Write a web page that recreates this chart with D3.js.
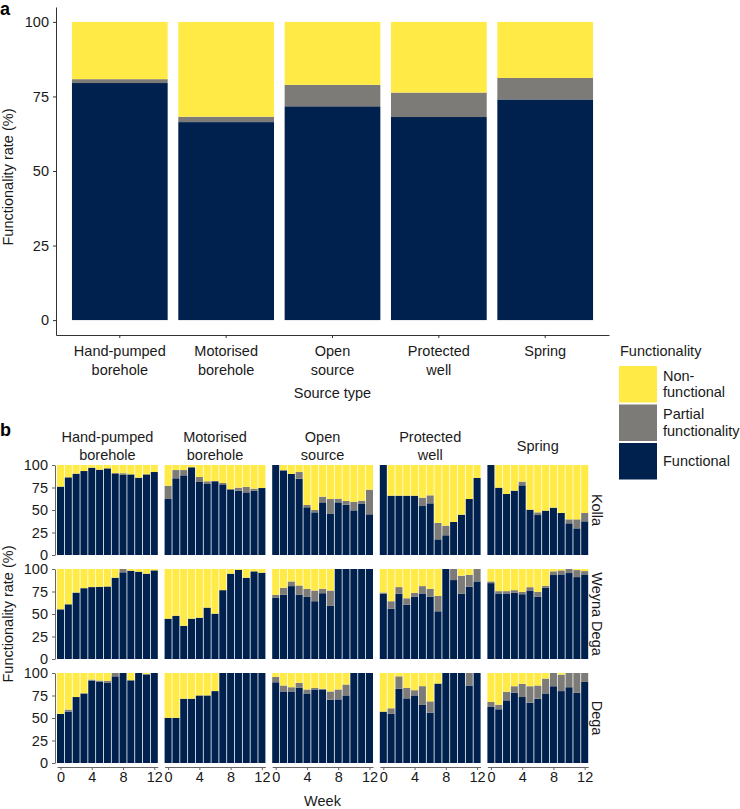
<!DOCTYPE html>
<html><head><meta charset="utf-8">
<script src="https://cdn.jsdelivr.net/npm/d3@7"></script>
<style>body{margin:0;background:#fff}svg{display:block;font-family:"Liberation Sans",Arial,Helvetica,sans-serif}</style>
</head><body><svg id="c" width="740" height="809"></svg>
<script>
// ---------- data ----------
const sourceTypes = ["Hand-pumped borehole","Motorised borehole","Open source","Protected well","Spring"];
const sourceLabels = [["Hand-pumped","borehole"],["Motorised","borehole"],["Open","source"],["Protected","well"],["Spring"]];
const overallFunctional = [79.5, 66.4, 71.7, 68.1, 74.0];
const overallPartial    = [1.3, 1.8, 7.2, 8.2, 7.2];
const zones = ["Kolla","Weyna Dega","Dega"];
const weeks = [0,1,2,3,4,5,6,7,8,9,10,11,12];
const weekTicks = [0,4,8,12];
const pctTicks = [0,25,50,75,100];
const legendLabels = [["Non-","functional"],["Partial","functionality"],["Functional"]];

// Kolla: functional / partial per source type (weeks 0-12)
const kollaFunctional = [
  [76, 86.3, 90.4, 93.3, 97, 94.8, 96.3, 90, 89, 89.6, 85.9, 89.6, 92.2],
  [62.2, 85.2, 88.5, 96.7, 81.1, 78.9, 81.9, 78.5, 73, 71.5, 69.6, 71.5, 74.4],
  [100, 94.1, 90, 84.8, 53, 47.4, 58.5, 45.6, 58.5, 55.9, 49.6, 56.7, 45.2],
  [100, 65.9, 65.9, 65.9, 65.9, 54.4, 57.4, 17.4, 21.9, 36.7, 44.8, 62.2, 85.6],
  [100, 74.8, 67.8, 71.5, 77.4, 50.4, 44.4, 49.3, 52.6, 46.7, 35.2, 29.6, 37.4]
];
const kollaPartial = [
  [0, 0, 0, 0, 0, 0, 0, 1.1, 1.9, 0, 0, 0, 0],
  [14.8, 9.2, 5.9, 1.1, 5.6, 3, 0.4, 1.5, 0, 3.3, 6, 2.2, 0],
  [0, 0, 0, 7.4, 2.6, 2.6, 6.3, 16.6, 4.1, 4.1, 9.3, 3.7, 27.4],
  [0, 0, 0, 0, 0, 9.3, 8.9, 18.2, 10.7, 0, 0, 0, 0],
  [0, 0, 0, 0, 4.1, 0, 3, 0, 0, 0, 4.4, 10, 9.3]
];
// Weyna Dega
const weynaFunctional = [
  [55.2, 60.8, 73.5, 78.7, 79.9, 80.2, 80.6, 90.3, 96.3, 98.1, 97, 94.8, 98.5],
  [44.8, 48.1, 36.9, 44.8, 45.9, 57.1, 50.4, 76.5, 94.8, 98.9, 90.3, 97.4, 95.9],
  [67.9, 71.3, 81, 71.6, 69, 64.2, 73.1, 59, 100, 100, 100, 100, 100],
  [72.4, 56, 72.4, 60.4, 69.4, 72.8, 69, 53, 100, 87.7, 72.4, 80.2, 86.2],
  [84.3, 72.8, 72.8, 73.5, 72, 76.1, 69.4, 79.1, 93.3, 94, 95.5, 91, 94]
];
const weynaPartial = [
  [0, 0, 0.5, 0, 0, 0, 0, 0, 3.7, 0, 0, 0, 0],
  [0, 0, 0, 0, 0, 0, 0, 0, 0, 0, 0, 0, 0],
  [3.4, 7.8, 5.2, 10.1, 9, 11.9, 4.9, 17.1, 0, 0, 0, 0, 0],
  [1.5, 8.2, 7.5, 7.1, 4.1, 8.2, 9, 17.1, 0, 12.3, 20.1, 13.4, 13.8],
  [1.9, 2.6, 2.6, 3, 2.6, 3.7, 5.2, 2.2, 4.1, 4.5, 4.5, 7.8, 3.7]
];
// Dega
const degaFunctional = [
  [54.6, 57.1, 73.3, 76.9, 91.6, 90.1, 89, 96.3, 100, 91.9, 100, 98.2, 100],
  [50.2, 50.2, 71.4, 71.4, 75.1, 75.1, 79.9, 100, 100, 100, 100, 100, 100],
  [89.7, 79.5, 79.5, 83.5, 77.3, 81.7, 81.7, 70.3, 70.7, 75.1, 100, 100, 100],
  [57.1, 54.6, 82.4, 71.8, 75.1, 64.5, 56, 88.3, 100, 100, 100, 86.1, 100],
  [62.3, 59.7, 69.6, 78, 73.3, 67, 71.4, 77.3, 85.3, 79.9, 84.2, 78, 90.1]
];
const degaPartial = [
  [0, 2.2, 0, 0.8, 1.1, 1.5, 2.2, 3.7, 0, 0, 0, 0.7, 0],
  [0, 0, 0, 0, 0, 0, 0, 0, 0, 0, 0, 0, 0],
  [5.9, 6.6, 4.7, 5.5, 4.4, 1.8, 0.7, 9.2, 11, 12.1, 0, 0, 0],
  [0, 6.2, 13.9, 11.7, 5.8, 20.9, 12.5, 0, 0, 0, 0, 13.9, 0],
  [5.5, 5.1, 9.5, 7.3, 14.6, 18.3, 14.7, 16.5, 14.7, 18.3, 15.8, 22, 9.9]
];
const zoneFunctional = [kollaFunctional, weynaFunctional, degaFunctional];
const zonePartial = [kollaPartial, weynaPartial, degaPartial];

const stackKeys = ["f","p","n"];
const colors = {f:"#00204D", p:"#7C7B78", n:"#FFEA46"};
const legendColors = ["#FFEA46","#7C7B78","#00204D"];

// ---------- drawing ----------
const svg = d3.select("#c");
const TXT = "#1a1a1a", FS = 14.5;
const stack = d3.stack().keys(stackKeys);

function styleAxis(g, lineColor){
  g.selectAll("path.domain").attr("stroke", lineColor).attr("stroke-width",1);
  g.selectAll(".tick line").attr("stroke", lineColor);
  g.selectAll(".tick text").attr("fill", TXT).style("font-size", FS+"px").attr("font-family", null);
  g.attr("font-family", null).attr("font-size", null);
}

// ===== Panel a =====
const rowsA = sourceTypes.map((s,i)=>({key:s, f:overallFunctional[i], p:overallPartial[i], n:100-overallFunctional[i]-overallPartial[i]}));
const xA = d3.scaleBand().domain(sourceTypes).range([56,609]).paddingInner(0.1).paddingOuter(0.15);
const yA = d3.scaleLinear().domain([-5,105]).range([335,7]);
const gA = svg.append("g");
gA.selectAll("g.layer").data(stack(rowsA)).join("g").attr("fill", d=>colors[d.key])
  .selectAll("rect").data(d=>d).join("rect")
  .attr("x", d=>xA(d.data.key)).attr("width", xA.bandwidth())
  .attr("y", d=>yA(d[1])).attr("height", d=>yA(d[0])-yA(d[1]));
const ayA = gA.append("g").attr("transform","translate(56,0)")
  .call(d3.axisLeft(yA).tickValues(pctTicks).tickSize(3).tickSizeOuter(0).tickPadding(4));
styleAxis(ayA, "#333");
const axA = gA.append("g").attr("transform","translate(0,335)")
  .call(d3.axisBottom(xA).tickSize(3).tickSizeOuter(0).tickPadding(4).tickFormat(""));
styleAxis(axA, "#333");
axA.selectAll(".tick").each(function(d,i){
  const t = d3.select(this).append("text").attr("fill",TXT).style("font-size",FS+"px").attr("text-anchor","middle");
  sourceLabels[i].forEach((l,k)=>t.append("tspan").attr("x",0).attr("y",21+k*19).text(l));
});
svg.append("text").attr("x",332.5).attr("y",398).attr("text-anchor","middle").attr("fill",TXT).style("font-size",FS+"px").text("Source type");
svg.append("text").attr("transform","translate(13,177) rotate(-90)").attr("text-anchor","middle").attr("fill",TXT).style("font-size",FS+"px").text("Functionality rate (%)");
svg.append("text").attr("x",0).attr("y",15).attr("font-weight","bold").style("font-size","18px").attr("fill","#000").text("a");

// ===== Legend =====
const lg = svg.append("g");
lg.append("text").attr("x",620).attr("y",356).attr("fill",TXT).style("font-size",FS+"px").text("Functionality");
legendLabels.forEach((lab,i)=>{
  const y0 = 366 + i*38.5;
  lg.append("rect").attr("x",619).attr("y",y0).attr("width",38).attr("height",36.5).attr("fill",legendColors[i]);
  const t = lg.append("text").attr("fill",TXT).style("font-size",FS+"px");
  const n = lab.length;
  lab.forEach((l,k)=>t.append("tspan").attr("x",663).attr("y", y0+18+5 + (k-(n-1)/2)*16.5).text(l));
});

// ===== Panel b =====
svg.append("text").attr("x",0).attr("y",436).attr("font-weight","bold").style("font-size","18px").attr("fill","#000").text("b");
const colLeft = i => 57 + i*107.6, colW = 100.8;
const rowTop = j => 465 + j*104, rowH = 90;

zones.forEach((z,j)=>{
  sourceTypes.forEach((s,i)=>{
    const x = d3.scaleLinear().domain([-0.45,12.45]).range([colLeft(i), colLeft(i)+colW]);
    const y = d3.scaleLinear().domain([0,100]).range([rowTop(j)+rowH, rowTop(j)]);
    const rows = weeks.map((w,k)=>({key:w, f:zoneFunctional[j][i][k], p:zonePartial[j][i][k],
      n:Math.max(0,100-zoneFunctional[j][i][k]-zonePartial[j][i][k])}));
    const g = svg.append("g");
    g.selectAll("g.layer").data(stack(rows)).join("g").attr("fill", d=>colors[d.key])
      .selectAll("rect").data(d=>d).join("rect")
      .attr("x", d=>x(d.data.key-0.45)).attr("width", d=>x(d.data.key+0.45)-x(d.data.key-0.45))
      .attr("y", d=>y(d[1])).attr("height", d=>y(d[0])-y(d[1]));
    if(i===0){
      const ay = svg.append("g").attr("transform","translate(55,0)")
        .call(d3.axisLeft(y).tickValues(pctTicks).tickSize(3).tickSizeOuter(0).tickPadding(4));
      styleAxis(ay, "#666");
    }
    if(j===zones.length-1){
      const ax = svg.append("g").attr("transform","translate(0,767)")
        .call(d3.axisBottom(x).tickValues(weekTicks).tickSize(3).tickSizeOuter(0).tickPadding(2));
      styleAxis(ax, "#666");
    }
    if(j===0){
      const cx = colLeft(i)+colW/2;
      const t = svg.append("text").attr("fill",TXT).style("font-size",FS+"px").attr("text-anchor","middle");
      const n = sourceLabels[i].length;
      sourceLabels[i].forEach((l,k)=>t.append("tspan").attr("x",cx).attr("y", 451 + (k-(n-1)/2)*17.5).text(l));
    }
  });
  svg.append("text").attr("transform",`translate(592,${rowTop(j)+rowH/2}) rotate(90)`)
    .attr("text-anchor","middle").attr("fill",TXT).style("font-size",FS+"px").text(z);
});
svg.append("text").attr("x",322.5).attr("y",806).attr("text-anchor","middle").attr("fill",TXT).style("font-size",FS+"px").text("Week");
svg.append("text").attr("transform","translate(13,614) rotate(-90)").attr("text-anchor","middle").attr("fill",TXT).style("font-size",FS+"px").text("Functionality rate (%)");
</script></body></html>
